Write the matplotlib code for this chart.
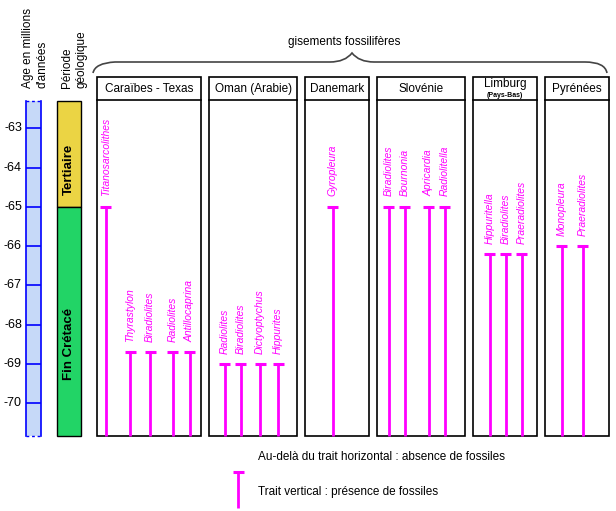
import matplotlib
matplotlib.use("Agg")
import matplotlib.pyplot as plt
from matplotlib.patches import Rectangle, PathPatch
from matplotlib.path import Path

plt.rcParams['font.family'] = ['Liberation Sans', 'DejaVu Sans']

# ---------------- data ----------------
age_ticks = [-63, -64, -65, -66, -67, -68, -69, -70]
age_top = -62.3
age_bottom = -70.83
boundary_age = -65.0  # Tertiaire / Fin Crétacé

sites = ["Caraïbes - Texas", "Oman (Arabie)", "Danemark", "Slovénie", "Limburg", "Pyrénées"]
species = [
    ["Titanosarcolithes", "Thyrastylon", "Biradiolites", "Radiolites", "Antillocaprina"],
    ["Radiolites", "Biradiolites", "Dictyoptychus", "Hippurites"],
    ["Gyropleura"],
    ["Biradiolites", "Bournonia", "Apricardia", "Radiolitella"],
    ["Hippuritella", "Biradiolites", "Praeradiolites"],
    ["Monopleura", "Praeradiolites"],
]
first_age = [
    [-65.0, -68.7, -68.7, -68.7, -68.7],
    [-69.0, -69.0, -69.0, -69.0],
    [-65.0],
    [-65.0, -65.0, -65.0, -65.0],
    [-66.2, -66.2, -66.2],
    [-66.0, -66.0],
]

# ---------------- layout (pixels) ----------------
W, H = 616, 511
box_x = [(97.3, 201.3), (209.3, 297.3), (305.3, 369.3), (377.3, 465.3), (473.3, 537.3), (545.3, 609.3)]
line_x = [
    [105.7, 130, 150, 172.5, 189.5],
    [224.5, 240.7, 260, 278],
    [332.7],
    [388.7, 404.7, 428.7, 444.7],
    [489.7, 505.7, 521.7],
    [561.7, 582.7],
]
px_per_myr = 39.29
p_ref = 128.3  # pixel row of -63


def age_of(p):
    return -63 - (p - p_ref) / px_per_myr


fig = plt.figure(figsize=(W / 100, H / 100), dpi=100)
ax = fig.add_axes([0, 0, 1, 1])
ax.set_xlim(0, W)
ax.set_ylim(age_of(H), age_of(0))
ax.axis('off')

ov = fig.add_axes([0, 0, 1, 1], zorder=-1)
ov.set_xlim(0, W)
ov.set_ylim(H, 0)
ov.axis('off')

magenta = '#FF00FF'
blue = '#0000FF'

# ---- age scale bar ----
ax.add_patch(Rectangle((26, age_bottom), 15.3, age_top - age_bottom,
                       facecolor='#C6D9F8', edgecolor='none'))
ax.plot([26, 26], [age_bottom, age_top], color=blue, lw=1.2)
ax.plot([41.3, 41.3], [age_bottom, age_top], color=blue, lw=1.2)
ax.plot([26, 41.3], [age_top, age_top], color=blue, lw=1.0, ls=(0, (2, 2)))
ax.plot([26, 41.3], [age_bottom, age_bottom], color=blue, lw=1.0, ls=(0, (2, 2)))
ax.hlines(age_ticks, 26, 41.3, color=blue, lw=1.2)
for a in age_ticks:
    ax.text(22, a, f"-{abs(a)}", ha='right', va='center', fontsize=9)

# ---- geological period bar ----
ax.add_patch(Rectangle((57.3, boundary_age), 24, age_top - boundary_age,
                       facecolor='#EBD444', edgecolor='black', lw=1))
ax.add_patch(Rectangle((57.3, age_bottom), 24, boundary_age - age_bottom,
                       facecolor='#22D466', edgecolor='black', lw=1))
ax.text(69.3, -64.05, "Tertiaire", rotation=90, ha='center', va='center',
        fontsize=9.5, fontweight='bold')
ax.text(69.3, -68.5, "Fin Crétacé", rotation=90, ha='center', va='center',
        fontsize=9.5, fontweight='bold')

# ---- column headers ----
ov.text(35.5, 88, "Age en millions\nd'années", rotation=90, ha='center', va='bottom',
        fontsize=8.5, multialignment='left', linespacing=1.3)
ov.text(74, 88, "Période\ngéologique", rotation=90, ha='center', va='bottom',
        fontsize=8.5, multialignment='left', linespacing=1.3)

# ---- brace ----
verts = [(93, 73), (95, 63), (115, 62), (130, 62),
         (330, 62), (345, 62), (352, 53),
         (359, 62), (374, 62), (390, 62),
         (585, 62), (605, 62), (607, 73)]
codes = [Path.MOVETO, Path.CURVE3, Path.CURVE3, Path.LINETO,
         Path.LINETO, Path.CURVE3, Path.CURVE3,
         Path.CURVE3, Path.CURVE3, Path.LINETO,
         Path.LINETO, Path.CURVE3, Path.CURVE3]
ov.add_patch(PathPatch(Path(verts, codes), facecolor='none', edgecolor='#444444', lw=1.2))
ov.text(344, 42, "gisements fossilifères", ha='center', va='center', fontsize=8.5)

# ---- site boxes ----
hdr_top = age_of(76.7)
hdr_bot = age_of(100.3)
for i, name in enumerate(sites):
    x0, x1 = box_x[i]
    ax.add_patch(Rectangle((x0, age_bottom), x1 - x0, hdr_top - age_bottom,
                           facecolor='white', edgecolor='black', lw=1.2, zorder=1))
    ax.plot([x0, x1], [hdr_bot, hdr_bot], color='black', lw=1.2, zorder=2)
    xc = (x0 + x1) / 2
    if name == "Limburg":
        ax.text(xc, age_of(84), name, ha='center', va='center', fontsize=8.5, zorder=3)
        ax.text(xc, age_of(95.5), "(Pays-Bas)", ha='center', va='center',
                fontsize=5, fontweight='bold', zorder=3)
    else:
        ax.text(xc, (hdr_top + hdr_bot) / 2, name, ha='center', va='center',
                fontsize=8.5, zorder=3)
    for j, sp in enumerate(species[i]):
        x = line_x[i][j]
        a = first_age[i][j]
        ax.plot([x, x], [age_bottom, a], color=magenta, lw=2, zorder=3,
                solid_capstyle='butt')
        ax.plot([x - 5.5, x + 5.5], [a, a], color=magenta, lw=2.2, zorder=3,
                solid_capstyle='butt')
        ax.annotate(sp, (x, a), xytext=(0, 7.5), textcoords='offset points',
                    rotation=90, ha='center', va='bottom', fontsize=7.5,
                    style='italic', color=magenta, zorder=3)

# ---- legend ----
ov.text(258, 457, "Au-delà du trait horizontal : absence de fossiles",
        ha='left', va='center', fontsize=8.5)
ov.plot([238.3, 238.3], [472, 508], color=magenta, lw=2, solid_capstyle='butt')
ov.plot([233, 243.5], [472, 472], color=magenta, lw=2.2, solid_capstyle='butt')
ov.text(258, 492, "Trait vertical : présence de fossiles",
        ha='left', va='center', fontsize=8.5)

fig.savefig("out.png", dpi=100, facecolor='white')
